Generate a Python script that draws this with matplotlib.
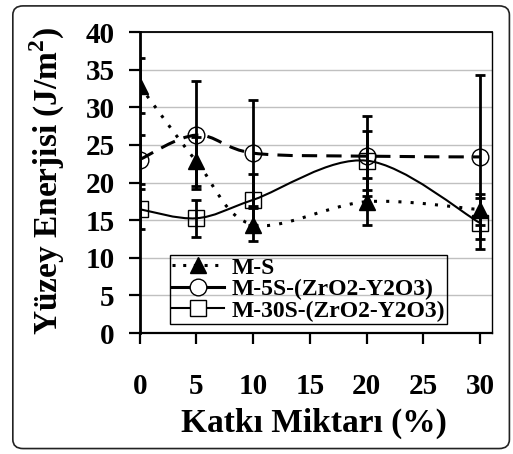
import matplotlib
matplotlib.use("Agg")
import matplotlib.pyplot as plt
from matplotlib.path import Path
from matplotlib.patches import PathPatch, FancyBboxPatch
from matplotlib.lines import Line2D

plt.rcParams['font.family'] = ['Liberation Serif', 'DejaVu Serif']
plt.rcParams['font.weight'] = 'bold'
plt.rcParams['mathtext.fontset'] = 'custom'
plt.rcParams['mathtext.rm'] = 'Liberation Serif:bold'

# katkı miktarı (%)
katki = [0, 5, 10, 20, 30]

ms = [32.85, 22.8, 14.4, 17.45, 16.4]
ms_err = [3.65, 3.2, 2.2, 3.1, 2.1]

m5s = [23.05, 26.3, 23.9, 23.5, 23.4]
m5s_err = [3.25, 7.2, 7.0, 5.3, 10.9]

m30s = [16.45, 15.25, 17.7, 22.9, 14.6]
m30s_err = [2.65, 2.45, 3.4, 3.9, 3.4]

etiketler = ['M-S', 'M-5S-(ZrO2-Y2O3)', 'M-30S-(ZrO2-Y2O3)']
x_ticks = [0, 5, 10, 15, 20, 25, 30]
y_ticks = [0, 5, 10, 15, 20, 25, 30, 35, 40]


def smooth_path(xs, ys):
    # Excel tarzı yumuşatılmış çizgi (Catmull-Rom -> Bezier)
    pts = list(zip(xs, ys))
    n = len(pts)
    verts = [pts[0]]
    codes = [Path.MOVETO]
    for i in range(n - 1):
        p0 = pts[max(i - 1, 0)]
        p1 = pts[i]
        p2 = pts[i + 1]
        p3 = pts[min(i + 2, n - 1)]
        c1 = (p1[0] + (p2[0] - p0[0]) / 6, p1[1] + (p2[1] - p0[1]) / 6)
        c2 = (p2[0] - (p3[0] - p1[0]) / 6, p2[1] - (p3[1] - p1[1]) / 6)
        verts += [c1, c2, p2]
        codes += [Path.CURVE4] * 3
    return Path(verts, codes)


fig = plt.figure(figsize=(5.13, 4.54), dpi=100)
ax = fig.add_axes([0.2723, 0.2665, 0.6873, 0.663])

# çerçeve
fig.patches.append(FancyBboxPatch((0.025, 0.012), 0.968, 0.975,
                                  boxstyle="round,pad=0,rounding_size=0.02",
                                  transform=fig.transFigure, fill=False,
                                  edgecolor='#222222', linewidth=1.2))

ax.set_xlim(0, 31.06)
ax.set_ylim(0, 40)
ax.set_xticks(x_ticks)
ax.set_yticks(y_ticks)
ax.yaxis.grid(True, color='#c0c0c0', linewidth=1)
ax.set_axisbelow(True)

ax.spines['left'].set_linewidth(2)
ax.spines['bottom'].set_linewidth(1.6)
ax.spines['top'].set_linewidth(1.3)
ax.spines['right'].set_linewidth(1.0)
ax.tick_params(axis='both', direction='out', length=8, width=1.6, labelsize=21)
ax.tick_params(axis='x', pad=21)
ax.tick_params(axis='y', pad=10)

# çizgiler
ax.add_patch(PathPatch(smooth_path(katki, ms), fill=False, color='black',
                       linewidth=2.2, linestyle=(0, (1, 3)), zorder=3))
ax.add_patch(PathPatch(smooth_path(katki, m5s), fill=False, color='black',
                       linewidth=2.2, linestyle=(0, (5, 3)), zorder=3))
ax.add_patch(PathPatch(smooth_path(katki, m30s), fill=False, color='black',
                       linewidth=1.5, zorder=3))

# hata çubukları
for seri, hata in [(ms, ms_err), (m5s, m5s_err), (m30s, m30s_err)]:
    ax.errorbar(katki, seri, yerr=hata, fmt='none', ecolor='black',
                elinewidth=2, capsize=3.5, capthick=2, zorder=4)

# işaretler
ax.plot(katki, ms, linestyle='none', marker='^', markersize=12,
        color='black', zorder=5)
ax.plot(katki, m5s, linestyle='none', marker='o', markersize=12,
        markerfacecolor='none', markeredgecolor='black', markeredgewidth=1, zorder=5)
ax.plot(katki, m30s, linestyle='none', marker='s', markersize=11.5,
        markerfacecolor='none', markeredgecolor='black', markeredgewidth=1, zorder=5)

handles = [
    Line2D([], [], color='black', linewidth=2.2, linestyle=(0, (1, 2.5)),
           marker='^', markersize=12),
    Line2D([], [], color='black', linewidth=2.2, marker='o', markersize=12,
           markerfacecolor='white', markeredgewidth=1),
    Line2D([], [], color='black', linewidth=1.5, marker='s', markersize=11.5,
           markerfacecolor='white', markeredgewidth=1),
]
leg = ax.legend(handles, etiketler, loc='lower left', bbox_to_anchor=(0.086, 0.03),
                borderaxespad=0, fontsize=17, handlelength=2.2, handletextpad=0.3,
                labelspacing=0.0, borderpad=0.1, fancybox=False, framealpha=1)
leg.get_frame().set_edgecolor('black')
leg.get_frame().set_linewidth(1)
leg.get_frame().set_facecolor('none')

fig.text(47 / 513, 1 - 181 / 454, 'Yüzey Enerjisi (J/m$^2$)', rotation=90,
         ha='center', va='center', fontsize=24, fontweight='bold')
fig.text(314 / 513, 1 - 423 / 454, 'Katkı Miktarı (%)',
         ha='center', va='center', fontsize=24, fontweight='bold')

fig.savefig('out.png', dpi=100)
